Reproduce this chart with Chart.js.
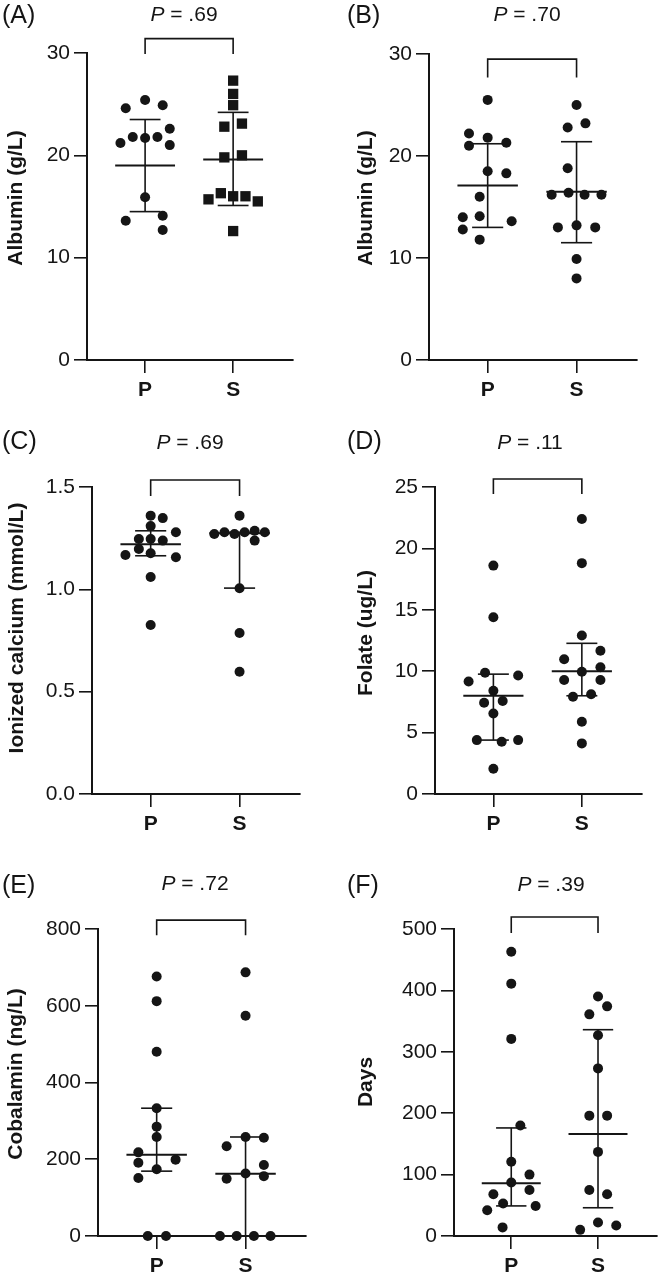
<!DOCTYPE html>
<html>
<head>
<meta charset="utf-8">
<script src="https://cdn.jsdelivr.net/npm/chart.js@4/dist/chart.umd.min.js"></script>
<style>
  html, body { margin: 0; padding: 0; background: #ffffff; }
  body { width: 662px; height: 1278px; position: relative; overflow: hidden; }
  canvas { position: absolute; }
</style>
</head>
<body>
<canvas id="cA"></canvas>
<canvas id="cB"></canvas>
<canvas id="cC"></canvas>
<canvas id="cD"></canvas>
<canvas id="cE"></canvas>
<canvas id="cF"></canvas>
<script>
// ---------------- DATA ----------------
const groups = ['P', 'S'];

// (A) Albumin (g/L)
const albuminA_P = [24.6, 25.4, 24.9, 21.2, 21.8, 21.7, 21.8, 22.6, 21.0, 15.9, 13.6, 14.1, 12.7];
const albuminA_S = [27.3, 26.0, 24.9, 22.8, 23.1, 19.8, 20.0, 15.7, 16.3, 16.0, 16.0, 15.5, 12.6];
const jitterA_P = [-0.22, 0, 0.2, -0.28, -0.14, 0, 0.14, 0.28, 0.28, 0, -0.22, 0.2, 0.2];
const jitterA_S = [0, 0, 0, -0.1, 0.1, -0.1, 0.1, -0.28, -0.14, 0, 0.14, 0.28, 0];
const statsA_P = [19.0, 23.5, 14.5];   // centre, upper, lower
const statsA_S = [19.6, 24.2, 15.1];
const yTicksA = [0, 10, 20, 30];
const yTickLabelsA = ['0', '10', '20', '30'];
const pValueA = '.69';

// (B) Albumin (g/L)
const albuminB_P = [25.5, 22.2, 21.0, 21.8, 21.3, 18.5, 18.3, 16.0, 14.0, 14.1, 13.6, 12.8, 11.8];
const albuminB_S = [25.0, 22.8, 23.2, 18.8, 16.2, 16.4, 16.2, 16.2, 13.0, 13.2, 13.0, 9.9, 8.0];
const jitterB_P = [0, -0.21, -0.21, 0, 0.21, 0, 0.21, -0.09, -0.28, -0.09, 0.27, -0.28, -0.09];
const jitterB_S = [0, -0.1, 0.1, -0.1, -0.28, -0.09, 0.09, 0.28, -0.21, 0, 0.21, 0, 0];
const statsB_P = [17.1, 21.2, 13.0];
const statsB_S = [16.5, 21.4, 11.5];
const yTicksB = [0, 10, 20, 30];
const yTickLabelsB = ['0', '10', '20', '30'];
const pValueB = '.70';

// (C) Ionized calcium (mmol/L)
const calciumC_P = [1.36, 1.348, 1.309, 1.279, 1.246, 1.246, 1.238, 1.197, 1.176, 1.168, 1.157, 1.06, 0.826];
const calciumC_S = [1.36, 1.27, 1.279, 1.27, 1.279, 1.286, 1.279, 1.238, 1.005, 0.787, 0.597];
const jitterC_P = [0, 0.136, 0, 0.284, -0.133, 0, 0.136, -0.133, 0, -0.284, 0.284, 0, 0];
const jitterC_S = [0, -0.284, -0.17, -0.057, 0.057, 0.17, 0.284, 0.17, 0, 0, 0];
const statsC_P = [1.22, 1.286, 1.164];
const statsC_S = [1.274, 1.279, 1.006];
const yTicksC = [0, 0.5, 1.0, 1.5];
const yTickLabelsC = ['0.0', '0.5', '1.0', '1.5'];
const pValueC = '.69';

// (D) Folate (ug/L)
const folateD_P = [18.6, 14.4, 9.16, 9.87, 9.65, 8.41, 7.43, 7.57, 6.56, 4.39, 4.26, 4.39, 2.06];
const folateD_S = [22.4, 18.8, 12.9, 11.67, 10.97, 10.32, 9.96, 9.28, 9.28, 8.12, 7.92, 5.88, 4.12];
const jitterD_P = [0, 0, -0.28, -0.094, 0.28, 0, -0.105, 0.105, 0, -0.187, 0.094, 0.28, 0];
const jitterD_S = [0, 0, 0, 0.21, -0.2, 0.21, 0, -0.2, 0.21, 0.105, -0.1, 0, 0];
const statsD_P = [8.0, 9.76, 4.39];
const statsD_S = [10.0, 12.27, 8.0];
const yTicksD = [0, 5, 10, 15, 20, 25];
const yTickLabelsD = ['0', '5', '10', '15', '20', '25'];
const pValueD = '.11';

// (E) Cobalamin (ng/L)
const cobalaminE_P = [676, 612, 480, 333, 285, 258, 218, 191, 151, 199, 174, 0, 0];
const cobalaminE_S = [687, 574, 234, 258, 256, 185, 149, 163, 156, 0, 0, 0, 0];
const jitterE_P = [0, 0, 0, 0, 0, 0, -0.206, -0.206, -0.206, 0.213, 0, -0.1, 0.105];
const jitterE_S = [0, 0, -0.213, 0, 0.206, 0.206, -0.213, 0, 0.206, -0.288, -0.1, 0.094, 0.281];
const statsE_P = [212, 333, 169];
const statsE_S = [162, 258, 0];
const yTicksE = [0, 200, 400, 600, 800];
const yTickLabelsE = ['0', '200', '400', '600', '800'];
const pValueE = '.72';

// (F) Days
const daysF_P = [463, 411, 321, 180, 121, 100, 87, 68, 75, 53, 42, 49, 14];
const daysF_S = [390, 361, 374, 327, 273, 196, 196, 137, 75, 68, 10, 22, 17];
const jitterF_P = [0, 0, 0, 0.105, 0, 0.21, 0, -0.206, 0.21, -0.094, -0.277, 0.281, -0.1];
const jitterF_S = [0, -0.1, 0.105, 0, 0, -0.1, 0.105, 0, -0.1, 0.105, -0.206, 0, 0.21];
const statsF_P = [86, 176, 49];
const statsF_S = [166, 336, 46];
const yTicksF = [0, 100, 200, 300, 400, 500];
const yTickLabelsF = ['0', '100', '200', '300', '400', '500'];
const pValueF = '.39';

// bracket levels (in data units): top, leg end
const bracketA = [31.4, 29.9];
const bracketB = [29.5, 27.7];
const bracketC = [1.534, 1.456];
const bracketD = [25.65, 24.43];
const bracketE = [823, 784];
const bracketF = [519.5, 493.5];

// ---------------- LAYOUT / STYLE ----------------
const FONT = "'Liberation Sans', Arial, Helvetica, sans-serif";
const INK = '#151515';
const X_MIN = -0.66, X_MAX = 1.68;
const MEAN_HALF = 0.34, CAP_HALF = 0.175;

const panels = [
  { id: 'cA', letter: '(A)', title: 'Albumin (g/L)', P: albuminA_P, S: albuminA_S, jP: jitterA_P, jS: jitterA_S,
    sP: statsA_P, sS: statsA_S, ticks: yTicksA, labels: yTickLabelsA, pv: pValueA, br: bracketA, squares: true,
    box: { left: 0, top: 0, w: 331, h: 410 }, area: { L: 87, R: 293, T: 53, B: 360 },
    pX: 184, pY: 15, lX: 2, lY: 16, tX: 16, tY: 198 },
  { id: 'cB', letter: '(B)', title: 'Albumin (g/L)', P: albuminB_P, S: albuminB_S, jP: jitterB_P, jS: jitterB_S,
    sP: statsB_P, sS: statsB_S, ticks: yTicksB, labels: yTickLabelsB, pv: pValueB, br: bracketB, squares: false,
    box: { left: 331, top: 0, w: 331, h: 410 }, area: { L: 429, R: 637, T: 54, B: 360 },
    pX: 527, pY: 15, lX: 347, lY: 16, tX: 366, tY: 198 },
  { id: 'cC', letter: '(C)', title: 'Ionized calcium (mmol/L)', P: calciumC_P, S: calciumC_S, jP: jitterC_P, jS: jitterC_S,
    sP: statsC_P, sS: statsC_S, ticks: yTicksC, labels: yTickLabelsC, pv: pValueC, br: bracketC, squares: false,
    box: { left: 0, top: 420, w: 331, h: 425 }, area: { L: 92, R: 300, T: 487, B: 794 },
    pX: 190, pY: 443, lX: 2, lY: 442, tX: 17, tY: 628 },
  { id: 'cD', letter: '(D)', title: 'Folate (ug/L)', P: folateD_P, S: folateD_S, jP: jitterD_P, jS: jitterD_S,
    sP: statsD_P, sS: statsD_S, ticks: yTicksD, labels: yTickLabelsD, pv: pValueD, br: bracketD, squares: false,
    box: { left: 331, top: 420, w: 331, h: 425 }, area: { L: 435, R: 642, T: 487, B: 794 },
    pX: 530, pY: 443, lX: 347, lY: 442, tX: 366, tY: 633 },
  { id: 'cE', letter: '(E)', title: 'Cobalamin (ng/L)', P: cobalaminE_P, S: cobalaminE_S, jP: jitterE_P, jS: jitterE_S,
    sP: statsE_P, sS: statsE_S, ticks: yTicksE, labels: yTickLabelsE, pv: pValueE, br: bracketE, squares: false,
    box: { left: 0, top: 860, w: 331, h: 418 }, area: { L: 98, R: 306, T: 929, B: 1236 },
    pX: 195, pY: 884, lX: 2, lY: 886, tX: 16, tY: 1074 },
  { id: 'cF', letter: '(F)', title: 'Days', P: daysF_P, S: daysF_S, jP: jitterF_P, jS: jitterF_S,
    sP: statsF_P, sS: statsF_S, ticks: yTicksF, labels: yTickLabelsF, pv: pValueF, br: bracketF, squares: false,
    box: { left: 331, top: 860, w: 331, h: 418 }, area: { L: 454, R: 662, T: 929, B: 1236 },
    pX: 551, pY: 885, lX: 347, lY: 886, tX: 366, tY: 1082 }
];

function seg(x1, y1, x2, y2, w) {
  return {
    type: 'line', data: [{ x: x1, y: y1 }, { x: x2, y: y2 }],
    borderColor: INK, borderWidth: w, pointRadius: 0, showLine: true,
    fill: false, tension: 0, clip: false, order: 0
  };
}

function errorBars(g, st) {
  const [c, u, l] = st;
  return [
    seg(g - MEAN_HALF, c, g + MEAN_HALF, c, 2),
    seg(g, l, g, u, 1.6),
    seg(g - CAP_HALF, u, g + CAP_HALF, u, 1.6),
    seg(g - CAP_HALF, l, g + CAP_HALF, l, 1.6)
  ];
}

const annotPlugin = {
  id: 'annot',
  afterDraw(chart, args, opts) {
    const p = opts.panel;
    const ctx = chart.ctx;
    const ox = p.box.left, oy = p.box.top;
    const xs = chart.scales.x, ys = chart.scales.y;
    ctx.save();
    // bracket
    const x0 = xs.getPixelForValue(0), x1 = xs.getPixelForValue(1);
    const yt = ys.getPixelForValue(p.br[0]), yb = ys.getPixelForValue(p.br[1]);
    ctx.strokeStyle = INK; ctx.lineWidth = 1.6;
    ctx.beginPath();
    ctx.moveTo(x0, yb); ctx.lineTo(x0, yt); ctx.lineTo(x1, yt); ctx.lineTo(x1, yb);
    ctx.stroke();
    // p value
    ctx.fillStyle = INK;
    ctx.textBaseline = 'middle';
    ctx.textAlign = 'left';
    const fi = 'italic 21px ' + FONT, fn = '21px ' + FONT;
    ctx.font = fi; const wP = ctx.measureText('P').width;
    ctx.font = fn; const rest = ' = ' + p.pv; const wR = ctx.measureText(rest).width;
    let sx = p.pX - ox - (wP + wR) / 2;
    ctx.font = fi; ctx.fillText('P', sx, p.pY - oy);
    ctx.font = fn; ctx.fillText(rest, sx + wP, p.pY - oy);
    // panel letter
    ctx.font = '25px ' + FONT;
    ctx.fillText(p.letter, p.lX - ox, p.lY - oy);
    // y title
    ctx.translate(p.tX - ox, p.tY - oy);
    ctx.rotate(-Math.PI / 2);
    ctx.textAlign = 'center';
    ctx.font = 'bold 21px ' + FONT;
    ctx.fillText(p.title, 0, 0);
    ctx.restore();
  }
};

panels.forEach(p => {
  const cv = document.getElementById(p.id);
  cv.width = p.box.w; cv.height = p.box.h;
  cv.style.left = p.box.left + 'px'; cv.style.top = p.box.top + 'px';
  cv.style.width = p.box.w + 'px'; cv.style.height = p.box.h + 'px';

  const yAxisW = p.area.L - p.box.left;
  const padR = p.box.left + p.box.w - p.area.R;
  const padT = p.area.T - p.box.top;
  const xAxisH = p.box.top + p.box.h - p.area.B;

  const ptsP = p.P.map((v, i) => ({ x: 0 + p.jP[i], y: v }));
  const ptsS = p.S.map((v, i) => ({ x: 1 + p.jS[i], y: v }));

  const datasets = [
    ...errorBars(0, p.sP),
    ...errorBars(1, p.sS),
    { type: 'scatter', data: ptsP, pointStyle: 'circle', pointRadius: 5, pointBackgroundColor: INK,
      pointBorderWidth: 0, borderWidth: 0, clip: false, order: 1 },
    { type: 'scatter', data: ptsS, pointStyle: p.squares ? 'rect' : 'circle', pointRadius: p.squares ? 7.3 : 5,
      pointBackgroundColor: INK, pointBorderWidth: 0, borderWidth: 0, clip: false, order: 1 }
  ];

  new Chart(cv, {
    type: 'scatter',
    data: { datasets },
    options: {
      responsive: false, animation: false, devicePixelRatio: 1,
      layout: { padding: { left: 0, right: padR, top: padT, bottom: 0 } },
      plugins: { legend: { display: false }, tooltip: { enabled: false }, annot: { panel: p } },
      events: [],
      scales: {
        x: {
          type: 'linear', min: X_MIN, max: X_MAX,
          afterFit(s) { s.height = xAxisH; },
          afterBuildTicks(s) { s.ticks = groups.map((g, i) => ({ value: i })); },
          ticks: { callback: (v) => groups[v], color: INK, padding: 5, autoSkip: false, maxRotation: 0,
                   font: { family: FONT, size: 21, weight: 'bold' } },
          grid: { drawOnChartArea: false, drawTicks: true, tickLength: 13, color: INK, lineWidth: 1.6 },
          border: { display: true, color: INK, width: 2 }
        },
        y: {
          type: 'linear', min: p.ticks[0], max: p.ticks[p.ticks.length - 1],
          afterFit(s) { s.width = yAxisW; },
          afterBuildTicks(s) { s.ticks = p.ticks.map(v => ({ value: v })); },
          ticks: { callback: (v, i) => p.labels[i], color: INK, padding: 4, autoSkip: false,
                   font: { family: FONT, size: 21 } },
          grid: { drawOnChartArea: false, drawTicks: true, tickLength: 13, color: INK, lineWidth: 1.6 },
          border: { display: true, color: INK, width: 2 }
        }
      }
    },
    plugins: [annotPlugin]
  });
});
</script>
</body>
</html>
